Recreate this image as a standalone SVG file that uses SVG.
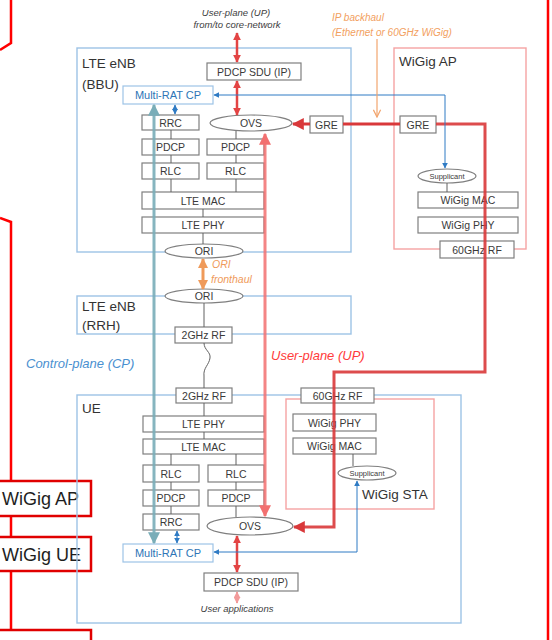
<svg xmlns="http://www.w3.org/2000/svg" width="552" height="640" viewBox="0 0 552 640">
<defs>
<style>
.b{fill:#fff;stroke:#7f7f7f;stroke-width:1.2}
.cb{fill:none;stroke:#9dc3e6;stroke-width:1.4}
.pb{fill:none;stroke:#f5a3a3;stroke-width:1.4}
.t{font-family:"Liberation Sans",Arial,sans-serif;font-size:10.5px;fill:#3a3a3a;text-anchor:middle}
.ts{font-family:"Liberation Sans",Arial,sans-serif;font-size:7.5px;fill:#3a3a3a;text-anchor:middle}
.lb{font-family:"Liberation Sans",Arial,sans-serif;font-size:13.5px;fill:#333}
.it{font-family:"Liberation Sans",Arial,sans-serif;font-style:italic}
.g{stroke:#606060;stroke-width:1;fill:none}
.big{font-family:"Liberation Sans",Arial,sans-serif;font-size:18px;fill:#1e1e1e}
</style>
<marker id="mr" viewBox="0 0 10 10" refX="9" refY="5" markerWidth="8" markerHeight="8" markerUnits="userSpaceOnUse" orient="auto-start-reverse"><path d="M0,0L10,5L0,10z" fill="#e34444"/></marker>
<marker id="mrl" viewBox="0 0 10 10" refX="9" refY="5" markerWidth="7" markerHeight="7" markerUnits="userSpaceOnUse" orient="auto-start-reverse"><path d="M0,0L10,5L0,10z" fill="#f29a9a"/></marker>
<marker id="mg" viewBox="0 0 10 10" refX="9" refY="5" markerWidth="12" markerHeight="12" markerUnits="userSpaceOnUse" orient="auto-start-reverse"><path d="M0,0L10,5L0,10z" fill="#d9383a"/></marker>
<marker id="mu" viewBox="0 0 10 10" refX="9" refY="5" markerWidth="12" markerHeight="12" markerUnits="userSpaceOnUse" orient="auto-start-reverse"><path d="M0,0L10,5L0,10z" fill="#f27070"/></marker>
<marker id="mt" viewBox="0 0 10 10" refX="9" refY="5" markerWidth="12" markerHeight="12" markerUnits="userSpaceOnUse" orient="auto-start-reverse"><path d="M0,0L10,5L0,10z" fill="#79adb8"/></marker>
<marker id="mb" viewBox="0 0 10 10" refX="9" refY="5" markerWidth="6" markerHeight="6" markerUnits="userSpaceOnUse" orient="auto-start-reverse"><path d="M0,0L10,5L0,10z" fill="#2f7bc4"/></marker>
<marker id="mo" viewBox="0 0 10 10" refX="9" refY="5" markerWidth="10" markerHeight="10" markerUnits="userSpaceOnUse" orient="auto-start-reverse"><path d="M0,0L10,5L0,10z" fill="#ef9a5a"/></marker>
<marker id="moo" viewBox="0 0 10 10" refX="9" refY="5" markerWidth="9" markerHeight="9" markerUnits="userSpaceOnUse" orient="auto"><path d="M1,1L9,5L1,9" fill="none" stroke="#f2a56e" stroke-width="1.4"/></marker>
</defs>

<g id="frame">
<polyline points="11,0 11,43 0,50" fill="none" stroke="#ff0000" stroke-width="2.5"/>
<polyline points="0,218 11,222 11,640" fill="none" stroke="#ff0000" stroke-width="2.5"/>
<line x1="548" y1="0" x2="548" y2="640" stroke="#ff0000" stroke-width="2.5"/>
</g>
<g id="side-wigig-ap"><rect x="-5" y="481" width="96" height="35" fill="#fff" stroke="#e00000" stroke-width="2.5"/><text class="big" x="2" y="505">WiGig AP</text></g>
<g id="side-wigig-ue"><rect x="-5" y="537" width="96" height="34" fill="#fff" stroke="#e00000" stroke-width="2.5"/><text class="big" x="2" y="561">WiGig UE</text></g>
<g id="side-box3"><rect x="-5" y="630" width="96" height="20" fill="#fff" stroke="#e00000" stroke-width="2.5"/></g>

<g id="bbu"><rect class="cb" x="77" y="48" width="274" height="204"/><text class="lb" x="82" y="68">LTE eNB</text><text class="lb" x="82" y="89">(BBU)</text></g>
<g id="rrh"><rect class="cb" x="77" y="296" width="274" height="38"/><text class="lb" x="82" y="311">LTE eNB</text><text class="lb" x="82" y="330"> (RRH)</text></g>
<g id="ue"><rect class="cb" x="77" y="395" width="384" height="228"/><text class="lb" x="82" y="413">UE</text></g>
<g id="wigig-ap"><rect class="pb" x="394" y="48" width="132" height="201"/><text class="lb" x="399" y="66">WiGig AP</text></g>
<g id="wigig-sta"><rect class="pb" x="286" y="399" width="148" height="110"/><text class="lb" x="362" y="499">WiGig STA</text></g>

<g id="pdcpsdu-enb"><rect class="b" x="207" y="63" width="94" height="17"/><text class="t" x="254" y="75.5">PDCP SDU (IP)</text></g>
<g id="mrcp-enb"><rect x="123" y="86" width="90" height="18" fill="#fff" stroke="#9dc3e6" stroke-width="1.2"/><text class="t" x="168" y="99" style="fill:#2e75b6;font-size:11px">Multi-RAT CP</text></g>
<g id="rrc-enb"><rect class="b" x="142" y="115" width="57" height="15"/><text class="t" x="170.5" y="126.5">RRC</text></g>
<g id="ovs-enb"><ellipse class="b" cx="251" cy="123" rx="41" ry="8"/><text class="t" x="251" y="127">OVS</text></g>
<g id="pdcp-enb-l"><rect class="b" x="142" y="139" width="57" height="16"/><text class="t" x="170.5" y="151">PDCP</text></g>
<g id="pdcp-enb-r"><rect class="b" x="207" y="139" width="57" height="16"/><text class="t" x="235.5" y="151">PDCP</text></g>
<g id="rlc-enb-l"><rect class="b" x="142" y="163" width="57" height="16"/><text class="t" x="170.5" y="175">RLC</text></g>
<g id="rlc-enb-r"><rect class="b" x="207" y="163" width="57" height="16"/><text class="t" x="235.5" y="175">RLC</text></g>
<g id="mac-enb"><rect class="b" x="142" y="192" width="122" height="17"/><text class="t" x="203" y="204.5">LTE MAC</text></g>
<g id="phy-enb"><rect class="b" x="142" y="217" width="122" height="16"/><text class="t" x="203" y="229">LTE PHY</text></g>
<g id="ori-bbu"><ellipse class="b" cx="204" cy="251" rx="39" ry="7"/><text class="t" x="204" y="255">ORI</text></g>
<g id="ori-rrh"><ellipse class="b" cx="204" cy="296" rx="39" ry="7"/><text class="t" x="204" y="300">ORI</text></g>
<g id="rf2-rrh"><rect class="b" x="175" y="327" width="57" height="16"/><text class="t" x="203.5" y="339">2GHz RF</text></g>
<g id="gre-enb"><rect class="b" x="310" y="116" width="33" height="17"/><text class="t" x="326.5" y="128.5">GRE</text></g>
<g id="gre-ap"><rect class="b" x="400" y="116" width="36" height="17"/><text class="t" x="418" y="128.5">GRE</text></g>
<g id="supp-ap"><ellipse class="b" cx="447" cy="176" rx="29" ry="7"/><text class="ts" x="447" y="178.5">Supplicant</text></g>
<g id="wmac-ap"><rect class="b" x="418" y="192" width="100" height="16"/><text class="t" x="468" y="204">WiGig MAC</text></g>
<g id="wphy-ap"><rect class="b" x="418" y="217" width="100" height="16"/><text class="t" x="468" y="229">WiGig PHY</text></g>
<g id="rf60-ap"><rect class="b" x="440" y="241" width="74" height="17"/><text class="t" x="477" y="253.5">60GHz RF</text></g>

<g id="rf2-ue"><rect class="b" x="176" y="388" width="56" height="15"/><text class="t" x="204" y="399.5">2GHz RF</text></g>
<g id="phy-ue"><rect class="b" x="143" y="416" width="121" height="16"/><text class="t" x="203.5" y="428">LTE PHY</text></g>
<g id="mac-ue"><rect class="b" x="143" y="439" width="121" height="15"/><text class="t" x="203.5" y="450.5">LTE MAC</text></g>
<g id="rlc-ue-l"><rect class="b" x="143" y="465" width="56" height="17"/><text class="t" x="171" y="477.5">RLC</text></g>
<g id="rlc-ue-r"><rect class="b" x="208" y="465" width="56" height="17"/><text class="t" x="236" y="477.5">RLC</text></g>
<g id="pdcp-ue-l"><rect class="b" x="143" y="490" width="56" height="16"/><text class="t" x="171" y="502">PDCP</text></g>
<g id="pdcp-ue-r"><rect class="b" x="208" y="490" width="56" height="16"/><text class="t" x="236" y="502">PDCP</text></g>
<g id="rrc-ue"><rect class="b" x="143" y="514" width="56" height="16"/><text class="t" x="171" y="526">RRC</text></g>
<g id="ovs-ue"><ellipse class="b" cx="250" cy="526" rx="43" ry="9"/><text class="t" x="250" y="530">OVS</text></g>
<g id="mrcp-ue"><rect x="123" y="544" width="90" height="18" fill="#fff" stroke="#9dc3e6" stroke-width="1.2"/><text class="t" x="168" y="557" style="fill:#2e75b6;font-size:11px">Multi-RAT CP</text></g>
<g id="pdcpsdu-ue"><rect class="b" x="204" y="573" width="94" height="18"/><text class="t" x="251" y="586">PDCP SDU (IP)</text></g>
<g id="rf60-ue"><rect class="b" x="301" y="388" width="73" height="15"/><text class="t" x="337.5" y="399.5">60GHz RF</text></g>
<g id="wphy-ue"><rect class="b" x="293" y="414" width="83" height="17"/><text class="t" x="334.5" y="426.5">WiGig PHY</text></g>
<g id="wmac-ue"><rect class="b" x="293" y="438" width="83" height="16"/><text class="t" x="334.5" y="450">WiGig MAC</text></g>
<g id="supp-ue"><ellipse class="b" cx="367" cy="473" rx="29" ry="7"/><text class="ts" x="367" y="475.5">Supplicant</text></g>

<g id="labels">
<text class="it" x="236" y="16" text-anchor="middle" font-size="9.5" fill="#404040">User-plane (UP)</text>
<text class="it" x="237" y="28" text-anchor="middle" font-size="9.5" fill="#404040">from/to core-network</text>
<text class="it" x="332" y="21" font-size="10" fill="#f2a060">IP backhaul</text>
<text class="it" x="332" y="36" font-size="10" fill="#f2a060">(Ethernet or 60GHz WiGig)</text>
<text class="it" x="212" y="268" font-size="10.5" fill="#ef9a5a">ORI</text>
<text class="it" x="211" y="283" font-size="10.5" fill="#ef9a5a">fronthaul</text>
<text class="it" x="26" y="368" font-size="13" fill="#4a90d0">Control-plane (CP)</text>
<text class="it" x="271" y="360" font-size="13" fill="#ff3b3b">User-plane (UP)</text>
<text class="it" x="237" y="612" text-anchor="middle" font-size="9.5" fill="#404040">User applications</text>
</g>

<g id="connectors">
<path class="g" d="M171,130V139M171,155V163M171,179V192M236,131V139M236,155V163M236,179V192M203,209V217M203,233V244M204,303V327M204,403V416M204,432V439M171,454V465M236,454V465M171,482V490M236,482V490M171,506V514M236,506V517M447,183V192M353,454V466"/>
<path class="g" d="M204,343C204,350 211,352 210,358C209,365 203,368 204,376L204,388"/>
<line x1="237" y1="33" x2="237" y2="62" stroke="#e34444" stroke-width="2.5" marker-start="url(#mr)" marker-end="url(#mr)"/>
<line x1="237" y1="81" x2="237" y2="115" stroke="#e34444" stroke-width="2.5" marker-start="url(#mr)" marker-end="url(#mr)"/>
<line x1="237" y1="536" x2="237" y2="572" stroke="#e34444" stroke-width="2.5" marker-start="url(#mr)" marker-end="url(#mr)"/>
<line x1="237" y1="592" x2="237" y2="603" stroke="#f29a9a" stroke-width="2" marker-start="url(#mrl)" marker-end="url(#mrl)"/>
<line x1="343" y1="124" x2="400" y2="124" stroke="#d9383a" stroke-width="3"/>
<line x1="310" y1="124" x2="293" y2="124" stroke="#d9383a" stroke-width="3" marker-end="url(#mg)"/>
<path d="M436,124H485V372H334V527H294" fill="none" stroke="#d9383a" stroke-opacity="0.9" stroke-width="3" marker-end="url(#mg)"/>
<line x1="265" y1="134" x2="265" y2="516" stroke="#f27070" stroke-opacity="0.85" stroke-width="3" marker-start="url(#mu)" marker-end="url(#mu)"/>
<line x1="154" y1="105" x2="154" y2="543" stroke="#79adb8" stroke-opacity="0.9" stroke-width="3" marker-start="url(#mt)" marker-end="url(#mt)"/>
<path d="M214,95H445V168" fill="none" stroke="#2f7bc4" stroke-width="1" marker-start="url(#mb)" marker-end="url(#mb)"/>
<path d="M214,552H357V481" fill="none" stroke="#2f7bc4" stroke-width="1" marker-start="url(#mb)" marker-end="url(#mb)"/>
<line x1="175" y1="105" x2="175" y2="114" stroke="#2f7bc4" stroke-width="1.2" marker-start="url(#mb)" marker-end="url(#mb)"/>
<line x1="177" y1="531" x2="177" y2="543" stroke="#2f7bc4" stroke-width="1.2" marker-start="url(#mb)" marker-end="url(#mb)"/>
<line x1="377" y1="39" x2="377" y2="117" stroke="#f2a56e" stroke-width="1.2" marker-end="url(#moo)"/>
<line x1="203" y1="259" x2="203" y2="289" stroke="#ef9a5a" stroke-width="3" marker-start="url(#mo)" marker-end="url(#mo)"/>
</g>
</svg>
